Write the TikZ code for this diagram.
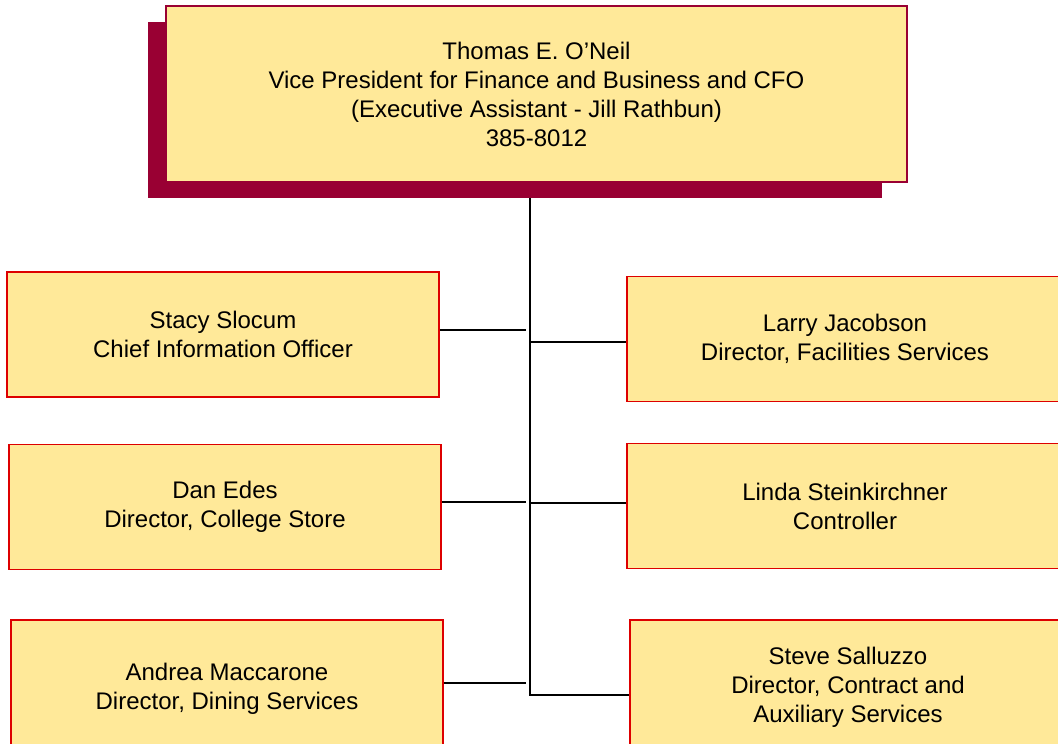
\documentclass[tikz,border=0pt]{standalone}
\usepackage{fontspec}
\setmainfont{Liberation Sans}
\definecolor{boxfill}{HTML}{FFE999}
\definecolor{boxline}{HTML}{DD0000}
\definecolor{wine}{HTML}{990033}
\begin{document}
\begin{tikzpicture}[x=1pt,y=-1pt,
    unit/.style={draw=boxline,line width=1.4pt,fill=boxfill,align=center,
      font=\fontsize{24}{29}\selectfont,minimum width=432pt,minimum height=125pt,inner sep=0pt},
    link/.style={line width=1.6pt}]
          \useasboundingbox (0,0) rectangle (1058,744);
          \clip (0,0) rectangle (1058,744);
          \fill[wine] (148,22) rectangle (882,198);
          \node[unit,draw=wine,minimum width=741pt,minimum height=176pt] at (536.5,94) (cfo) {Thomas E. O'Neil\\Vice President for Finance and Business and CFO\\(Executive Assistant - Jill Rathbun)\\385-8012};
          \node[unit] at (223,334.5) (cio) {Stacy Slocum\\Chief Information Officer};
          \node[unit] at (225,507) (store) {Dan Edes\\Director, College Store};
          \node[unit,minimum height=138pt] at (227,689) (dining) {Andrea Maccarone\\Director, Dining Services};
          \node[unit,minimum width=436pt] at (845,339) (fac) {Larry Jacobson\\Director, Facilities Services};
          \node[unit,minimum width=436pt] at (845,506) (ctrl) {Linda Steinkirchner\\Controller};
          \node[unit,minimum width=436pt,minimum height=134pt] at (848,687) (aux) {Steve Salluzzo\\Director, Contract and\\Auxiliary Services};
          \coordinate (top) at (530,198);
          \coordinate (foot) at (530,695);
          \coordinate (l1) at (526,330);
          \coordinate (l2) at (526,502);
          \coordinate (l3) at (526,683);
          \coordinate (r1) at (530,342);
          \coordinate (r2) at (530,503);
          \draw[link] (top) -- (foot) -- (aux.west |- foot);
          \draw[link] (cio.east |- l1) -- (l1);
          \draw[link] (store.east |- l2) -- (l2);
          \draw[link] (dining.east |- l3) -- (l3);
          \draw[link] (r1) -- (fac.west |- r1);
          \draw[link] (r2) -- (ctrl.west |- r2);
        \end{tikzpicture}
\end{document}
